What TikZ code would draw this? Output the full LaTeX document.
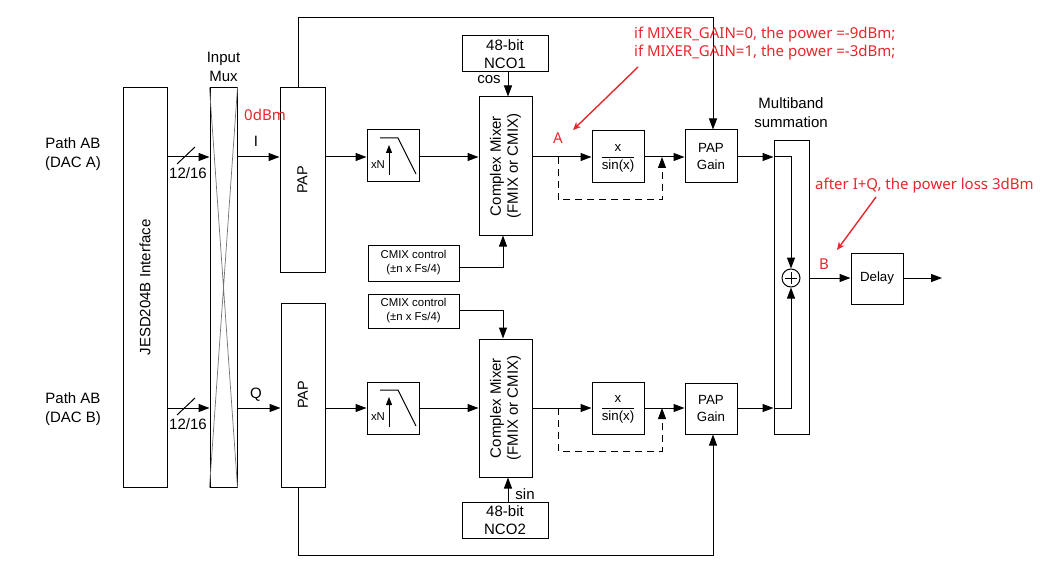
\documentclass[tikz,border=0pt]{standalone}
\usepackage{fontspec}
\setmainfont{Liberation Sans}
\newfontfamily\notefont{Noto Sans}
\usetikzlibrary{arrows.meta}
\definecolor{noteRed}{RGB}{232,38,43}
\begin{document}
\begin{tikzpicture}
% DAC path block diagram, drawn on the pixel grid of the source figure
\def\px{1pt}
\providecommand{\blkLineWidth}{1pt}
\providecommand{\muxLineColor}{black!55}
\begin{scope}[x=\px, y=-\px,
  blk/.style={draw, line width=\blkLineWidth, inner sep=0pt, align=center, font=\fontsize{13.3}{17}\selectfont},
  blkL/.style={blk, font=\fontsize{15}{18}\selectfont},
  lbl/.style={inner sep=0pt, align=center, font=\fontsize{15}{19}\selectfont},
  vtxt/.style={lbl, rotate=90, font=\fontsize{14.5}{17}\selectfont},
  sml/.style={inner sep=0pt, align=center, font=\fontsize{11.4}{14}\selectfont},
  note/.style={inner sep=0pt, align=left, text=noteRed, font=\notefont\fontsize{15}{18}\selectfont},
  wire/.style={line width=\blkLineWidth},
  sig/.style={wire, -{Triangle[length=11pt,width=8pt]}},
  byp/.style={sig, dash pattern=on 7pt off 5pt},
  redarr/.style={draw=noteRed, line width=1.4pt, -{Stealth[length=8pt,width=7pt]}}]
  \useasboundingbox (0,0) rectangle (1046,572);
  % Signal rows
  \coordinate (rowI) at (0,157);
  \coordinate (rowQ) at (0,408);
  % Interface and input mux
  \node[blk, minimum width=44, minimum height=399] (jesd) at (145,287.5) {};
  \node[vtxt, font=\fontsize{15}{17}\selectfont] (jesdTxt) at (jesd.center) {JESD204B Interface};
  \node[blk, minimum width=27, minimum height=399] (mux) at (223.5,287.5) {};
  \draw[\muxLineColor, line width=0.7pt] (mux.north west) -- (mux.south east)
    (mux.north east) -- (mux.south west);
  \node[lbl] (muxTxt) at (223.5,67) {Input\\Mux};
  \node[lbl] (pathA) at (73,154) {Path AB\\(DAC A)};
  \node[lbl] (pathB) at (73,409) {Path AB\\(DAC B)};
  % Bus into the mux
  \draw[sig] (jesd.east |- rowI) -- (mux.west |- rowI);
  \draw[sig] (jesd.east |- rowQ) -- (mux.west |- rowQ);
  \foreach \r in {rowI,rowQ}{
    \draw[wire] ([shift={(177,7)}]\r) -- ++(18,-17);
    \node[lbl] (\r-bus) at ([shift={(188,16)}]\r) {12/16};
  }
  % PAP blocks
  \node[blk, minimum width=45, minimum height=184] (papI) at (302.5,180) {};
  \node[vtxt] (papITxt) at (papI.center) {PAP};
  \node[blk, minimum width=44, minimum height=184] (papQ) at (303,395) {};
  \node[vtxt] (papQTxt) at (papQ.center) {PAP};
  \draw[sig] (mux.east |- rowI) -- (papI.west |- rowI);
  \draw[sig] (mux.east |- rowQ) -- (papQ.west |- rowQ);
  \node[lbl] (iLbl) at (256,141) {I};
  \node[lbl] (qLbl) at (256,395) {Q};
  % Interpolation filters
  \node[blk, minimum size=52] (filtI) at (393,156) {};
  \node[blk, minimum size=52] (filtQ) at (393,408) {};
  \foreach \f in {filtI,filtQ}{
    \draw[wire] ([shift={(-13,-18)}]\f.center) -- ++(18,0) -- ++(18,36);
    \draw[wire, -{Triangle[length=8pt,width=6pt]}] ([shift={(-4,19)}]\f.center) -- ++(0,-30);
    \node[sml] (\f-xn) at ([shift={(-15,9)}]\f.center) {xN};
  }
  \draw[sig] (papI.east |- rowI) -- (filtI.west |- rowI);
  \draw[sig] (papQ.east |- rowQ) -- (filtQ.west |- rowQ);
  % Complex mixers
  \node[blk, minimum width=53, minimum height=138] (mixI) at (505.5,166) {};
  \node[vtxt, font=\fontsize{15}{17}\selectfont] (mixITxt) at (mixI.center) {Complex Mixer\\(FMIX or CMIX)};
  \node[blk, minimum width=53, minimum height=138] (mixQ) at (505.5,408) {};
  \node[vtxt, font=\fontsize{15}{17}\selectfont] (mixQTxt) at (mixQ.center) {Complex Mixer\\(FMIX or CMIX)};
  \draw[sig] (filtI.east |- rowI) -- (mixI.west |- rowI);
  \draw[sig] (filtQ.east |- rowQ) -- (mixQ.west |- rowQ);
  % NCOs
  \node[blkL, minimum width=86, minimum height=36] (nco1) at (505,54) {48-bit\\NCO1};
  \node[blkL, minimum width=86, minimum height=36] (nco2) at (505,520.5) {48-bit\\NCO2};
  \draw[sig] ([xshift=3]nco1.south) -- ([xshift=3]nco1.south |- mixI.north);
  \draw[sig] ([xshift=3]nco2.north) -- ([xshift=3]nco2.north |- mixQ.south);
  \node[lbl] (cosLbl) at (489,80) {cos};
  \node[lbl] (sinLbl) at (525,494) {sin};
  % CMIX control
  \node[blk, sml, minimum width=91, minimum height=36] (cmixI) at (413.5,263) {CMIX control\\(±n x Fs/4)};
  \node[blk, sml, minimum width=91, minimum height=34] (cmixQ) at (413.5,311) {CMIX control\\(±n x Fs/4)};
  \draw[sig] ([yshift=-4]cmixI.east) -| ([xshift=-2.5]mixI.south);
  \draw[sig] ([yshift=1]cmixQ.east) -| ([xshift=-2.5]mixQ.north);
  % Inverse sinc with bypass
  \node[blk, minimum size=52] (sincI) at (618,157) {\begin{tabular}{@{}c@{}}x\\\hline sin(x)\end{tabular}};
  \node[blk, minimum size=52] (sincQ) at (618,408) {\begin{tabular}{@{}c@{}}x\\\hline sin(x)\end{tabular}};
  \draw[sig] (mixI.east |- rowI) -- (sincI.west |- rowI);
  \draw[sig] (mixQ.east |- rowQ) -- (sincQ.west |- rowQ);
  \coordinate (brI) at (558,157);
  \coordinate (jnI) at (662,157);
  \coordinate (brQ) at (558,408);
  \coordinate (jnQ) at (662,408);
  \draw[byp] (brI) -- ++(0,43) -| (jnI);
  \draw[byp] (brQ) -- ++(0,43) -| (jnQ);
  % PAP gain
  \node[blk, minimum width=52, minimum height=53] (gainI) at (711,156.5) {PAP\\Gain};
  \node[blk, minimum width=52, minimum height=51] (gainQ) at (711,408.5) {PAP\\Gain};
  \draw[sig] (sincI.east |- rowI) -- (gainI.west |- rowI);
  \draw[sig] (sincQ.east |- rowQ) -- (gainQ.west |- rowQ);
  \draw[sig] ([xshift=-4.5]papI.north) -- ++(0,-70) -| ([xshift=2]gainI.north);
  \draw[sig] ([xshift=-5]papQ.south) -- ++(0,68) -| ([xshift=2]gainQ.south);
  % Multiband summation
  \node[blk, minimum width=35, minimum height=293] (sum) at (791.5,287.5) {};
  \node[lbl] (sumTxt) at (791,113) {Multiband\\summation};
  \node[draw, circle, line width=\blkLineWidth, minimum size=18, inner sep=0pt] (adder) at (791,278) {};
  \draw[wire] ([yshift=6]adder.center) -- ([yshift=-6]adder.center)
    ([xshift=-6]adder.center) -- ([xshift=6]adder.center);
  \draw[sig] (gainI.east |- rowI) -- (sum.west |- rowI);
  \draw[sig] (gainQ.east |- rowQ) -- (sum.west |- rowQ);
  \draw[sig] (sum.west |- rowI) -| (adder.north);
  \draw[sig] (sum.west |- rowQ) -| (adder.south);
  % Delay and output
  \node[blk, minimum width=52, minimum height=51] (delay) at (877,278.5) {Delay};
  \coordinate (dout) at (942,278);
  \draw[sig] (sum.east |- adder.center) -- (delay.west |- adder.center);
  \draw[sig] (delay.east |- adder.center) -- (dout);
  % Red notes
  \node[note] (zeroDbm) at (265,115) {0dBm};
  \node[note] (ptA) at (558,138) {A};
  \node[note] (ptB) at (824,264) {B};
  \node[note, anchor=west] (noteMix) at (634,44) {if MIXER\_GAIN=0, the power =-9dBm;\\if MIXER\_GAIN=1, the power =-3dBm;};
  \node[note, anchor=west] (noteSum) at (815,186) {after I+Q, the power loss 3dBm};
  \coordinate (tailA) at (638,67);
  \coordinate (tipA) at (573,130);
  \coordinate (tailB) at (876,197);
  \coordinate (tipB) at (837,250);
  \draw[redarr] (tailA) -- (tipA);
  \draw[redarr] (tailB) -- (tipB);
\end{scope}
\end{tikzpicture}
\end{document}
